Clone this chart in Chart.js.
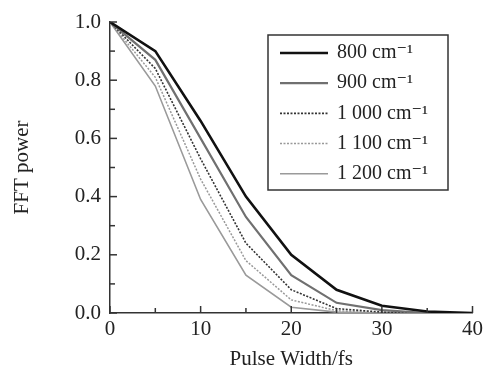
<!DOCTYPE html>
<html>
<head>
<meta charset="utf-8">
<script src="https://cdn.jsdelivr.net/npm/chart.js@4/dist/chart.umd.min.js"></script>
<style>
  html, body { margin: 0; padding: 0; background: #fff; }
  #wrap { width: 487px; height: 370px; }
</style>
</head>
<body>
<div id="wrap"><canvas id="fftChart" width="487" height="370"></canvas></div>
<script>
// Data
const pulseWidth = [0, 5, 10, 15, 20, 25, 30, 35, 40];
const seriesLabels = ['800 cm\u207B\u00B9', '900 cm\u207B\u00B9', '1 000 cm\u207B\u00B9', '1 100 cm\u207B\u00B9', '1 200 cm\u207B\u00B9'];
const power800 = [1.0, 0.90, 0.66, 0.40, 0.20, 0.08, 0.025, 0.005, 0.0];
const power900 = [1.0, 0.87, 0.60, 0.33, 0.13, 0.035, 0.01, 0.0, 0.0];
const power1000 = [1.0, 0.84, 0.53, 0.24, 0.08, 0.015, 0.003, 0.0, 0.0];
const power1100 = [1.0, 0.81, 0.46, 0.18, 0.045, 0.008, 0.0, 0.0, 0.0];
const power1200 = [1.0, 0.78, 0.39, 0.13, 0.02, 0.003, 0.0, 0.0, 0.0];
const xTicks = [0, 10, 20, 30, 40];
const yTicks = [0, 0.2, 0.4, 0.6, 0.8, 1.0];

const FONT = "'Liberation Serif', 'DejaVu Serif', serif";

function toPoints(values) {
  return values.map((v, i) => ({ x: pulseWidth[i], y: v }));
}

// Line styles per series
const styles = [
  { color: '#111', width: 2.6, dash: [] },
  { color: '#707070', width: 2.2, dash: [] },
  { color: '#333', width: 1.6, dash: [2, 1.5] },
  { color: '#999', width: 1.5, dash: [2, 1.5] },
  { color: '#9a9a9a', width: 1.6, dash: [] }
];
const allSeries = [power800, power900, power1000, power1100, power1200];

// Inward ticks (major + minor) drawn on the axes
const innerTicks = {
  id: 'innerTicks',
  afterDraw(chart) {
    const ctx = chart.ctx;
    const xs = chart.scales.x, ys = chart.scales.y;
    const area = chart.chartArea;
    ctx.save();
    ctx.strokeStyle = '#333';
    ctx.lineWidth = 1.5;
    for (let v = 0; v <= 40; v += 5) {
      const px = xs.getPixelForValue(v);
      const len = v % 10 === 0 ? 7 : 5;
      ctx.beginPath();
      ctx.moveTo(px, area.bottom);
      ctx.lineTo(px, area.bottom - len);
      ctx.stroke();
    }
    for (let i = 0; i <= 10; i++) {
      const py = ys.getPixelForValue(i / 10);
      const len = i % 2 === 0 ? 7 : 5;
      ctx.beginPath();
      ctx.moveTo(area.left, py);
      ctx.lineTo(area.left + len, py);
      ctx.stroke();
    }
    ctx.restore();
  }
};

// Boxed legend inside the plot
const boxLegend = {
  id: 'boxLegend',
  afterDraw(chart) {
    const ctx = chart.ctx;
    const box = { left: 268, top: 35, right: 448, bottom: 190 };
    ctx.save();
    ctx.fillStyle = '#fff';
    ctx.fillRect(box.left, box.top, box.right - box.left, box.bottom - box.top);
    ctx.strokeStyle = '#333';
    ctx.lineWidth = 1.5;
    ctx.strokeRect(box.left, box.top, box.right - box.left, box.bottom - box.top);
    ctx.font = '20px ' + FONT;
    ctx.textBaseline = 'middle';
    ctx.fillStyle = '#222';
    chart.data.datasets.forEach((ds, i) => {
      const y = 53 + i * 30.2;
      ctx.strokeStyle = ds.borderColor;
      ctx.lineWidth = ds.borderWidth;
      ctx.setLineDash(ds.borderDash || []);
      ctx.beginPath();
      ctx.moveTo(280, y);
      ctx.lineTo(328, y);
      ctx.stroke();
      ctx.setLineDash([]);
      ctx.fillText(ds.label, 337, y);
    });
    ctx.restore();
  }
};

const ctx = document.getElementById('fftChart').getContext('2d');
new Chart(ctx, {
  type: 'line',
  data: {
    datasets: allSeries.map((vals, i) => ({
      label: seriesLabels[i],
      data: toPoints(vals),
      borderColor: styles[i].color,
      borderWidth: styles[i].width,
      borderDash: styles[i].dash,
      pointRadius: 0,
      tension: 0,
      fill: false
    }))
  },
  options: {
    responsive: false,
    animation: false,
    layout: { padding: { top: 22, right: 13, left: 6, bottom: 0 } },
    plugins: {
      legend: { display: false },
      tooltip: { enabled: false }
    },
    scales: {
      x: {
        type: 'linear',
        min: 0,
        max: 40,
        afterBuildTicks: s => { s.ticks = xTicks.map(v => ({ value: v })); },
        grid: { display: false, drawTicks: false },
        border: { color: '#333', width: 1.5 },
        ticks: { color: '#222', font: { family: FONT, size: 21 }, padding: 4 },
        title: { display: true, text: 'Pulse Width/fs', color: '#222', font: { family: FONT, size: 21, lineHeight: 1.0 }, padding: { top: 6, bottom: 0 } },
        afterFit: s => { s.height = 57; }
      },
      y: {
        min: 0,
        max: 1,
        afterBuildTicks: s => { s.ticks = yTicks.map(v => ({ value: v })); },
        grid: { display: false, drawTicks: false },
        border: { color: '#333', width: 1.5 },
        ticks: { color: '#222', font: { family: FONT, size: 21 }, padding: 9, callback: v => v.toFixed(1) },
        title: { display: true, text: 'FFT power', color: '#222', font: { family: FONT, size: 21 }, padding: { bottom: 14 } },
        afterFit: s => { s.width = 104; }
      }
    }
  },
  plugins: [innerTicks, boxLegend]
});
</script>
</body>
</html>
